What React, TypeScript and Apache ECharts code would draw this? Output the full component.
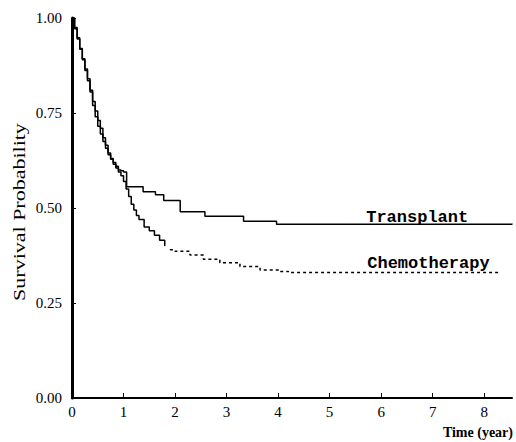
import React, { useEffect, useRef } from "react";
import * as echarts from "echarts";

const transplantT = [0, 0.05, 0.1, 0.15, 0.2, 0.25, 0.3, 0.35, 0.4, 0.45, 0.5, 0.55, 0.6, 0.65, 0.7, 0.75, 0.8, 0.85, 0.9, 0.95, 1.0, 1.06, 1.38, 1.62, 1.78, 2.1, 2.58, 3.33, 3.97, 8.54];
const transplantS = [1.0, 0.975, 0.948, 0.92, 0.893, 0.866, 0.84, 0.81, 0.78, 0.755, 0.73, 0.71, 0.685, 0.665, 0.645, 0.63, 0.62, 0.61, 0.6, 0.598, 0.595, 0.556, 0.543, 0.535, 0.52, 0.49, 0.478, 0.465, 0.457, 0.459];

const chemoT = [0, 0.05, 0.1, 0.15, 0.2, 0.25, 0.3, 0.35, 0.4, 0.45, 0.5, 0.55, 0.6, 0.65, 0.7, 0.75, 0.8, 0.85, 0.9, 0.95, 1.0, 1.05, 1.1, 1.15, 1.2, 1.25, 1.3, 1.4, 1.5, 1.6, 1.7, 1.8, 1.9, 2.0, 2.29, 2.55, 2.87, 3.26, 3.65, 4.04, 4.2, 8.3];
const chemoS = [1.0, 0.972, 0.945, 0.918, 0.89, 0.862, 0.835, 0.805, 0.77, 0.74, 0.715, 0.695, 0.675, 0.657, 0.64, 0.628, 0.615, 0.605, 0.595, 0.585, 0.57, 0.55, 0.53, 0.51, 0.495, 0.48, 0.47, 0.45, 0.44, 0.428, 0.415, 0.4, 0.39, 0.386, 0.376, 0.365, 0.356, 0.346, 0.337, 0.333, 0.33, 0.33];

const xTickValues = [1, 2, 3, 4, 5, 6, 7, 8];
const xLabelValues = [0, 1, 2, 3, 4, 5, 6, 7, 8];
const yTickLabels = ["0.00", "0.25", "0.50", "0.75", "1.00"];

const seriesNames = ["Transplant", "Chemotherapy"];
const labelAnchors = [
  [5.71, 0.476],
  [5.73, 0.353],
];
const chemoSolidUntil = 1.84;

export default function App() {
  const ref = useRef<HTMLDivElement>(null);
  useEffect(() => {
    if (!ref.current) return;
    const chart = echarts.init(ref.current, null, { renderer: "svg" });
    const tData = transplantT.map((t, i) => [t, transplantS[i]]);
    const cAll = chemoT.map((t, i) => [t, chemoS[i]]);
    const cSolid = cAll.filter((p) => p[0] <= chemoSolidUntil);
    const cDash = cAll.filter((p) => p[0] >= chemoSolidUntil);
    const serif = "'Liberation Serif', 'Times New Roman', serif";
    const markLabel = (name: string, coord: number[]) => ({
      symbol: "circle",
      symbolSize: 0,
      silent: true,
      animation: false,
      label: {
        show: true,
        position: "right",
        distance: 0,
        formatter: name,
        color: "#000",
        fontFamily: "'Liberation Mono', monospace",
        fontWeight: "bold",
        fontSize: 17,
      },
      data: [{ coord }],
    });
    chart.setOption({
      animation: false,
      backgroundColor: "#fff",
      grid: { left: 72, right: 4, top: 18, bottom: 44, containLabel: false, outerBoundsMode: "none" },
      xAxis: {
        type: "value",
        min: 0,
        max: 8.54,
        interval: 1,
        splitLine: { show: false },
        axisLine: { show: true, lineStyle: { color: "#000", width: 2 } },
        axisTick: { show: true, inside: true, length: 5, customValues: xTickValues, lineStyle: { color: "#000", width: 1 } },
        axisLabel: {
          customValues: xLabelValues,
          color: "#000",
          fontFamily: serif,
          fontSize: 15,
          margin: 6,
          formatter: (v: number) => String(Math.round(v)),
        },
      },
      yAxis: {
        type: "value",
        min: 0,
        max: 1,
        interval: 0.25,
        splitLine: { show: false },
        axisLine: { show: true, lineStyle: { color: "#000", width: 3 } },
        axisTick: { show: true, inside: true, length: 4, lineStyle: { color: "#000", width: 1 } },
        axisLabel: {
          color: "#000",
          fontFamily: serif,
          fontSize: 15,
          margin: 10,
          formatter: (v: number) => yTickLabels[Math.round(v * 4)],
        },
      },
      graphic: [
        {
          type: "text",
          x: 19,
          y: 212,
          rotation: Math.PI / 2,
          scaleY: 0.75,
          style: {
            text: "Survival Probability",
            fill: "#000",
            font: "22px 'Liberation Serif', serif",
            textAlign: "center",
            textVerticalAlign: "middle",
          },
        },
        {
          type: "text",
          right: 3,
          top: 425,
          style: {
            text: "Time (year)",
            fill: "#000",
            font: "bold 14px 'Liberation Serif', serif",
          },
        },
      ],
      series: [
        {
          name: seriesNames[0],
          type: "line",
          step: "end",
          showSymbol: false,
          symbol: "none",
          data: tData,
          lineStyle: { color: "#000", width: 1.5 },
          markPoint: markLabel(seriesNames[0], labelAnchors[0]),
          z: 3,
        },
        {
          name: seriesNames[1] + " (early)",
          type: "line",
          step: "end",
          showSymbol: false,
          symbol: "none",
          data: cSolid,
          lineStyle: { color: "#000", width: 1.5 },
          z: 2,
        },
        {
          name: seriesNames[1],
          type: "line",
          step: "end",
          showSymbol: false,
          symbol: "none",
          data: cDash,
          lineStyle: { color: "#000", width: 1.5, type: [3, 3] },
          markPoint: markLabel(seriesNames[1], labelAnchors[1]),
          z: 2,
        },
      ],
    });
    return () => chart.dispose();
  }, []);
  return (
    <div
      ref={ref}
      style={{ position: "fixed", left: 0, top: 0, width: 516, height: 442, background: "#fff" }}
    />
  );
}
